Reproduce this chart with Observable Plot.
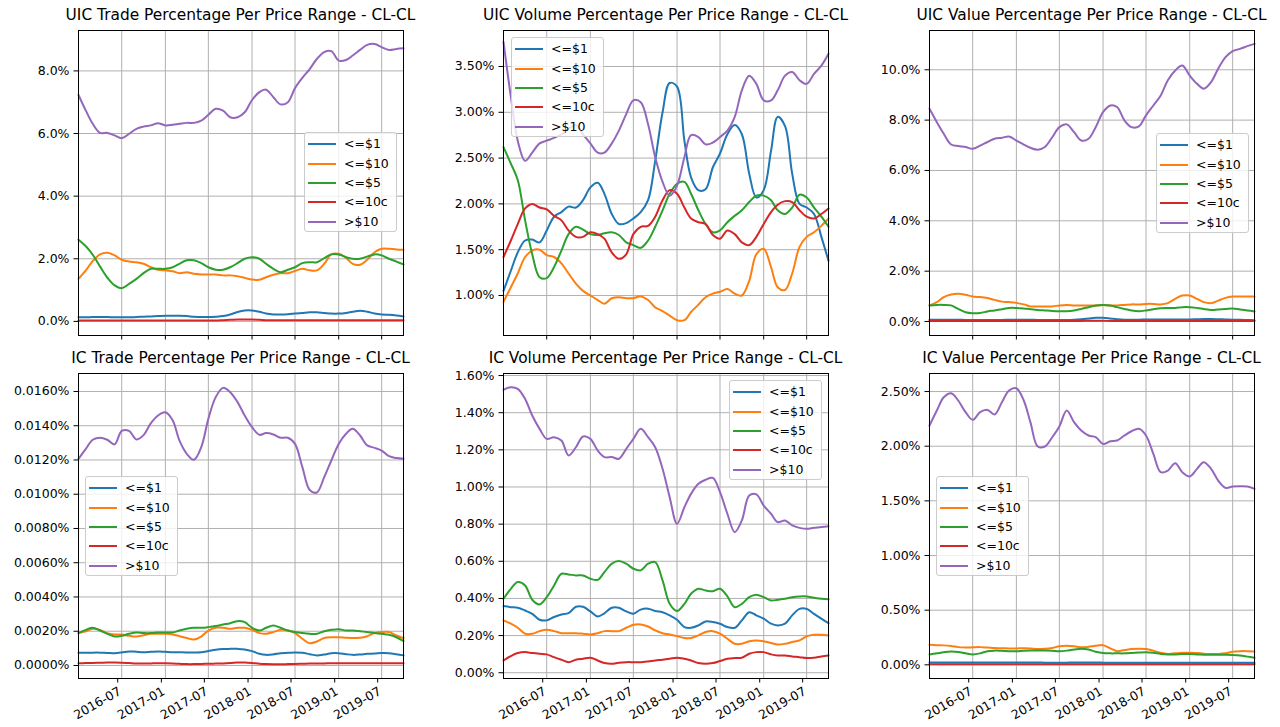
<!DOCTYPE html>
<html>
<head>
<meta charset="utf-8">
<script src="https://cdn.jsdelivr.net/npm/d3@7"></script>
<script src="https://cdn.jsdelivr.net/npm/@observablehq/plot@0.6"></script>
<style>
  body { margin: 0; background: #fff; }
  #root { position: relative; width: 1280px; height: 727px; overflow: hidden; background: #fff; font-family: "DejaVu Sans", sans-serif; }
  .title { position: absolute; font-size: 15.4px; line-height: 15px; text-align: center; color: #000; white-space: nowrap; }
  .panel { position: absolute; }
  .legend { position: absolute; box-sizing: border-box; width: 93px; height: 100px; border: 1px solid #cccccc; border-radius: 3px; background: rgba(255,255,255,0.8); }
  .legend .row { position: absolute; left: 0; width: 100%; height: 19.4px; }
  .legend .swatch { position: absolute; left: 3px; width: 28px; height: 2px; top: 9px; }
  .legend .lab { position: absolute; left: 39px; top: 1px; font-size: 12.5px; line-height: 17px; color: #000; white-space: nowrap; }
</style>
</head>
<body>
<div id="root"></div>
<script>
// ---------- shared categories ----------
const seriesNames = ["<=$1", "<=$10", "<=$5", "<=10c", ">$10"];
const seriesColors = ["#1f77b4", "#ff7f0e", "#2ca02c", "#d62728", "#9467bd"];
const months = [
  "2016-01","2016-02","2016-03","2016-04","2016-05","2016-06","2016-07","2016-08","2016-09","2016-10","2016-11","2016-12",
  "2017-01","2017-02","2017-03","2017-04","2017-05","2017-06","2017-07","2017-08","2017-09","2017-10","2017-11","2017-12",
  "2018-01","2018-02","2018-03","2018-04","2018-05","2018-06","2018-07","2018-08","2018-09","2018-10","2018-11","2018-12",
  "2019-01","2019-02","2019-03","2019-04","2019-05","2019-06","2019-07","2019-08","2019-09","2019-10"
];
const xTickLabels = ["2016-07","2017-01","2017-07","2018-01","2018-07","2019-01","2019-07"];

// ---------- UIC Trade (%) ----------
const uicTradeLe1  = [0.13,0.13,0.14,0.14,0.14,0.13,0.13,0.13,0.14,0.15,0.16,0.17,0.18,0.18,0.18,0.17,0.15,0.14,0.14,0.15,0.17,0.22,0.30,0.35,0.35,0.31,0.25,0.22,0.22,0.23,0.25,0.27,0.29,0.29,0.27,0.25,0.25,0.27,0.31,0.34,0.31,0.25,0.22,0.21,0.19,0.16];
const uicTradeLe10 = [1.36,1.63,1.93,2.14,2.19,2.11,1.97,1.91,1.89,1.84,1.73,1.65,1.63,1.60,1.54,1.57,1.52,1.50,1.50,1.50,1.47,1.47,1.44,1.39,1.34,1.33,1.41,1.49,1.54,1.54,1.61,1.68,1.63,1.63,1.84,2.14,2.16,2.03,1.84,1.81,1.97,2.21,2.32,2.32,2.30,2.29];
const uicTradeLe5  = [2.61,2.40,2.13,1.75,1.40,1.15,1.06,1.20,1.36,1.54,1.68,1.68,1.68,1.73,1.84,1.95,1.95,1.86,1.73,1.65,1.65,1.73,1.86,2.00,2.05,2.00,1.84,1.68,1.57,1.65,1.73,1.86,1.89,1.89,2.02,2.14,2.14,2.05,2.00,2.00,2.07,2.14,2.11,2.00,1.91,1.82];
const uicTradeLe10c= [0.03,0.03,0.03,0.03,0.03,0.03,0.03,0.03,0.03,0.03,0.03,0.03,0.03,0.03,0.03,0.03,0.03,0.03,0.03,0.03,0.04,0.05,0.06,0.06,0.06,0.05,0.04,0.04,0.04,0.04,0.04,0.04,0.04,0.04,0.04,0.04,0.04,0.04,0.04,0.04,0.04,0.04,0.04,0.04,0.04,0.04];
const uicTradeGt10 = [7.23,6.73,6.31,6.02,6.02,5.94,5.85,5.99,6.15,6.22,6.26,6.33,6.26,6.28,6.31,6.34,6.34,6.41,6.60,6.79,6.73,6.52,6.52,6.68,7.07,7.32,7.40,7.16,6.93,7.00,7.45,7.78,8.06,8.38,8.60,8.63,8.33,8.35,8.49,8.67,8.83,8.86,8.76,8.67,8.70,8.72];

// ---------- UIC Volume (%) ----------
const uicVolLe1  = [1.05,1.27,1.47,1.60,1.61,1.58,1.71,1.86,1.91,1.97,1.96,2.04,2.18,2.23,2.11,1.89,1.78,1.79,1.84,1.91,2.04,2.47,3.00,3.32,3.28,2.69,2.29,2.15,2.16,2.40,2.55,2.76,2.86,2.76,2.33,2.07,2.15,2.58,2.95,2.85,2.33,2.00,1.96,1.89,1.64,1.38];
const uicVolLe10 = [0.93,1.09,1.24,1.42,1.49,1.50,1.44,1.42,1.35,1.24,1.13,1.05,1.00,0.95,0.91,0.97,0.98,0.97,0.97,0.99,0.95,0.87,0.83,0.78,0.73,0.73,0.82,0.90,0.98,1.02,1.04,1.07,1.02,1.00,1.16,1.45,1.51,1.31,1.09,1.06,1.24,1.53,1.64,1.69,1.76,1.84];
const uicVolLe5  = [2.62,2.44,2.26,1.82,1.45,1.20,1.19,1.31,1.49,1.67,1.75,1.72,1.67,1.66,1.68,1.69,1.66,1.58,1.55,1.52,1.60,1.75,1.93,2.11,2.22,2.24,2.11,1.93,1.78,1.69,1.71,1.80,1.87,1.93,2.02,2.09,2.09,2.04,1.93,1.89,1.96,2.10,2.07,1.96,1.86,1.75];
const uicVolLe10c= [1.42,1.60,1.78,1.95,2.00,1.96,1.94,1.87,1.82,1.71,1.64,1.64,1.69,1.67,1.62,1.47,1.40,1.45,1.67,1.75,1.76,1.86,2.04,2.15,2.11,1.96,1.84,1.80,1.78,1.66,1.62,1.71,1.67,1.58,1.55,1.64,1.78,1.91,1.99,2.03,2.02,1.93,1.86,1.84,1.89,1.95];
const uicVolGt10 = [3.77,3.17,2.69,2.47,2.56,2.66,2.69,2.72,2.76,2.82,2.86,2.76,2.66,2.56,2.56,2.66,2.80,2.98,3.13,3.11,2.87,2.51,2.24,2.09,2.20,2.51,2.75,2.73,2.65,2.67,2.73,2.80,2.95,3.24,3.40,3.31,3.13,3.13,3.24,3.40,3.44,3.35,3.31,3.42,3.51,3.64];

// ---------- UIC Value (%) ----------
const uicValLe1  = [0.07,0.07,0.07,0.07,0.07,0.06,0.06,0.06,0.06,0.06,0.06,0.07,0.07,0.07,0.07,0.06,0.06,0.06,0.06,0.06,0.07,0.09,0.12,0.15,0.15,0.12,0.09,0.07,0.07,0.07,0.08,0.08,0.08,0.08,0.08,0.08,0.08,0.09,0.10,0.10,0.09,0.08,0.07,0.07,0.06,0.05];
const uicValLe10 = [0.64,0.77,0.97,1.07,1.10,1.06,0.99,0.97,0.93,0.86,0.79,0.77,0.74,0.68,0.60,0.60,0.60,0.60,0.64,0.66,0.64,0.64,0.64,0.64,0.66,0.64,0.64,0.66,0.68,0.68,0.70,0.70,0.68,0.73,0.90,1.03,1.03,0.90,0.77,0.73,0.83,0.94,0.99,0.99,0.99,0.99];
const uicValLe5  = [0.64,0.66,0.66,0.64,0.50,0.37,0.33,0.34,0.40,0.44,0.49,0.54,0.54,0.52,0.49,0.46,0.44,0.42,0.41,0.41,0.44,0.50,0.57,0.64,0.66,0.64,0.57,0.50,0.44,0.41,0.44,0.49,0.53,0.54,0.54,0.57,0.57,0.54,0.50,0.46,0.48,0.50,0.52,0.48,0.44,0.40];
const uicValLe10c= [0.02,0.02,0.02,0.02,0.02,0.02,0.02,0.02,0.02,0.02,0.02,0.02,0.02,0.02,0.02,0.02,0.02,0.02,0.02,0.02,0.02,0.02,0.03,0.03,0.03,0.02,0.02,0.02,0.02,0.02,0.02,0.02,0.02,0.02,0.02,0.02,0.02,0.02,0.02,0.02,0.02,0.02,0.02,0.02,0.02,0.02];
const uicValGt10 = [8.45,7.92,7.46,7.03,6.97,6.93,6.86,6.99,7.13,7.26,7.30,7.35,7.19,7.03,6.90,6.82,6.93,7.32,7.72,7.83,7.52,7.19,7.26,7.72,8.32,8.58,8.52,7.99,7.72,7.75,8.19,8.58,8.98,9.58,9.97,10.17,9.77,9.44,9.25,9.51,10.04,10.50,10.74,10.83,10.94,11.03];

// ---------- IC Trade (%) ----------
const icTradeLe1  = [0.00074,0.00074,0.00075,0.00075,0.00073,0.00072,0.00076,0.00082,0.00080,0.00078,0.00080,0.00082,0.00080,0.00078,0.00077,0.00076,0.00076,0.00077,0.00084,0.00092,0.00096,0.00097,0.00097,0.00094,0.00084,0.00068,0.00062,0.00065,0.00072,0.00074,0.00076,0.00074,0.00066,0.00059,0.00064,0.00072,0.00072,0.00066,0.00062,0.00064,0.00068,0.00070,0.00073,0.00072,0.00066,0.00059];
const icTradeLe10 = [0.00189,0.00200,0.00214,0.00208,0.00189,0.00181,0.00181,0.00173,0.00169,0.00177,0.00185,0.00185,0.00185,0.00181,0.00171,0.00160,0.00152,0.00169,0.00204,0.00220,0.00220,0.00214,0.00220,0.00220,0.00208,0.00189,0.00185,0.00195,0.00208,0.00204,0.00189,0.00156,0.00130,0.00140,0.00160,0.00165,0.00165,0.00162,0.00160,0.00162,0.00171,0.00189,0.00195,0.00195,0.00175,0.00160];
const icTradeLe5  = [0.00189,0.00208,0.00220,0.00204,0.00185,0.00169,0.00173,0.00185,0.00193,0.00189,0.00189,0.00193,0.00193,0.00193,0.00204,0.00214,0.00220,0.00220,0.00224,0.00230,0.00239,0.00247,0.00259,0.00253,0.00220,0.00204,0.00220,0.00234,0.00220,0.00204,0.00195,0.00189,0.00185,0.00185,0.00200,0.00208,0.00212,0.00204,0.00204,0.00200,0.00195,0.00189,0.00185,0.00179,0.00165,0.00142];
const icTradeLe10c= [0.00013,0.00014,0.00015,0.00016,0.00017,0.00017,0.00016,0.00014,0.00012,0.00011,0.00012,0.00013,0.00013,0.00012,0.00010,0.00008,0.00008,0.00009,0.00010,0.00011,0.00012,0.00014,0.00017,0.00018,0.00015,0.00010,0.00008,0.00007,0.00007,0.00008,0.00009,0.00010,0.00011,0.00012,0.00012,0.00013,0.00013,0.00013,0.00013,0.00013,0.00013,0.00013,0.00013,0.00013,0.00013,0.00013];
const icTradeGt10 = [0.01207,0.01265,0.01318,0.01330,0.01318,0.01291,0.01370,0.01370,0.01320,0.01345,0.01415,0.01460,0.01479,0.01431,0.01314,0.01236,0.01201,0.01275,0.01440,0.01567,0.01621,0.01596,0.01538,0.01460,0.01392,0.01347,0.01357,0.01349,0.01330,0.01330,0.01294,0.01158,0.01025,0.01010,0.01100,0.01197,0.01294,0.01353,0.01382,0.01343,0.01285,0.01271,0.01255,0.01222,0.01211,0.01207];

// ---------- IC Volume (%) ----------
const icVolLe1  = [0.359,0.353,0.350,0.335,0.317,0.285,0.282,0.300,0.314,0.321,0.355,0.355,0.330,0.303,0.320,0.350,0.350,0.330,0.318,0.340,0.345,0.332,0.326,0.309,0.285,0.246,0.242,0.255,0.276,0.273,0.264,0.246,0.242,0.282,0.326,0.309,0.291,0.264,0.255,0.264,0.309,0.344,0.344,0.317,0.291,0.267];
const icVolLe10 = [0.282,0.264,0.242,0.210,0.210,0.224,0.231,0.224,0.213,0.213,0.213,0.210,0.206,0.213,0.224,0.224,0.224,0.242,0.258,0.260,0.249,0.228,0.213,0.206,0.197,0.187,0.187,0.201,0.219,0.224,0.210,0.183,0.156,0.156,0.170,0.174,0.170,0.160,0.152,0.156,0.165,0.174,0.196,0.204,0.204,0.201];
const icVolLe5  = [0.398,0.452,0.488,0.470,0.393,0.368,0.407,0.470,0.533,0.529,0.524,0.524,0.506,0.500,0.542,0.587,0.601,0.587,0.560,0.551,0.587,0.596,0.497,0.371,0.332,0.371,0.425,0.452,0.443,0.439,0.452,0.411,0.353,0.371,0.407,0.420,0.407,0.389,0.393,0.398,0.407,0.411,0.411,0.404,0.398,0.395];
const icVolLe10c= [0.066,0.090,0.106,0.111,0.106,0.102,0.099,0.084,0.070,0.057,0.070,0.075,0.081,0.066,0.052,0.048,0.054,0.057,0.057,0.057,0.061,0.066,0.070,0.075,0.081,0.075,0.066,0.052,0.048,0.052,0.063,0.075,0.079,0.081,0.102,0.111,0.111,0.099,0.093,0.093,0.088,0.084,0.079,0.081,0.088,0.093];
const icVolGt10 = [1.523,1.537,1.528,1.474,1.385,1.313,1.259,1.268,1.250,1.170,1.214,1.272,1.259,1.196,1.161,1.161,1.152,1.205,1.259,1.313,1.268,1.214,1.098,0.945,0.802,0.891,0.963,1.017,1.039,1.049,0.972,0.856,0.757,0.820,0.954,0.960,0.900,0.856,0.811,0.820,0.793,0.780,0.775,0.780,0.784,0.789];

// ---------- IC Value (%) ----------
const icValLe1  = [0.022,0.022,0.022,0.022,0.022,0.022,0.021,0.021,0.021,0.021,0.022,0.022,0.022,0.021,0.021,0.021,0.020,0.020,0.020,0.020,0.021,0.021,0.021,0.021,0.020,0.019,0.019,0.019,0.019,0.019,0.019,0.019,0.019,0.019,0.019,0.019,0.019,0.019,0.019,0.019,0.019,0.019,0.019,0.019,0.019,0.019];
const icValLe10 = [0.183,0.180,0.178,0.172,0.162,0.158,0.160,0.162,0.158,0.153,0.152,0.150,0.150,0.152,0.150,0.145,0.147,0.155,0.170,0.175,0.170,0.160,0.165,0.175,0.180,0.150,0.125,0.135,0.145,0.148,0.145,0.130,0.110,0.100,0.105,0.110,0.110,0.108,0.102,0.100,0.100,0.105,0.120,0.125,0.125,0.122];
const icValLe5  = [0.095,0.105,0.115,0.122,0.118,0.105,0.095,0.105,0.125,0.130,0.128,0.125,0.125,0.128,0.130,0.130,0.130,0.128,0.125,0.130,0.140,0.148,0.140,0.120,0.108,0.105,0.105,0.105,0.108,0.112,0.115,0.110,0.100,0.095,0.095,0.098,0.098,0.095,0.093,0.092,0.093,0.092,0.090,0.085,0.075,0.065];
const icValLe10c= [0.005,0.005,0.005,0.005,0.005,0.005,0.005,0.005,0.005,0.005,0.005,0.005,0.005,0.005,0.005,0.005,0.005,0.005,0.005,0.005,0.005,0.005,0.006,0.006,0.005,0.005,0.005,0.005,0.005,0.005,0.005,0.005,0.005,0.005,0.005,0.005,0.005,0.005,0.005,0.005,0.005,0.005,0.005,0.005,0.005,0.005];
const icValGt10 = [2.189,2.326,2.448,2.485,2.418,2.311,2.241,2.311,2.332,2.290,2.402,2.509,2.530,2.418,2.220,1.997,1.997,2.082,2.180,2.326,2.220,2.143,2.098,2.082,2.021,2.046,2.052,2.098,2.137,2.159,2.098,1.930,1.762,1.777,1.845,1.762,1.723,1.793,1.854,1.793,1.686,1.619,1.631,1.634,1.631,1.610];

// ---------- y ticks per panel ----------
const uicTradeTicks = [0, 2, 4, 6, 8];
const uicVolTicks = [1.0, 1.5, 2.0, 2.5, 3.0, 3.5];
const uicValTicks = [0, 2, 4, 6, 8, 10];
const icTradeTicks = [0, 0.002, 0.004, 0.006, 0.008, 0.010, 0.012, 0.014, 0.016];
const icVolTicks = [0, 0.2, 0.4, 0.6, 0.8, 1.0, 1.2, 1.4, 1.6];
const icValTicks = [0, 0.5, 1.0, 1.5, 2.0, 2.5];

// ---------- build ----------
const parseMonth = d3.utcParse("%Y-%m");
const fmtMonth = d3.utcFormat("%Y-%m");
const monthDates = months.map(parseMonth);
const xTicks = xTickLabels.map(parseMonth);
const xDomain = [monthDates[0], monthDates[monthDates.length - 1]];

const W = 325, H = 305;
const panels = [
  {title: "UIC Trade Percentage Per Price Range - CL-CL", L: 78, T: 30, series: [uicTradeLe1, uicTradeLe10, uicTradeLe5, uicTradeLe10c, uicTradeGt10],
   yDomain: [-0.45, 9.29], yTicks: uicTradeTicks, digits: 1, bottom: false, leg: [226, 102]},
  {title: "UIC Volume Percentage Per Price Range - CL-CL", L: 503, T: 30, series: [uicVolLe1, uicVolLe10, uicVolLe5, uicVolLe10c, uicVolGt10],
   yDomain: [0.563, 3.893], yTicks: uicVolTicks, digits: 2, bottom: false, leg: [8, 7]},
  {title: "UIC Value Percentage Per Price Range - CL-CL", L: 929, T: 30, series: [uicValLe1, uicValLe10, uicValLe5, uicValLe10c, uicValGt10],
   yDomain: [-0.556, 11.56], yTicks: uicValTicks, digits: 1, bottom: false, leg: [227, 103]},
  {title: "IC Trade Percentage Per Price Range - CL-CL", L: 78, T: 373, series: [icTradeLe1, icTradeLe10, icTradeLe5, icTradeLe10c, icTradeGt10],
   yDomain: [-0.00076, 0.01705], yTicks: icTradeTicks, digits: 4, bottom: true, leg: [7, 103]},
  {title: "IC Volume Percentage Per Price Range - CL-CL", L: 503, T: 373, series: [icVolLe1, icVolLe10, icVolLe5, icVolLe10c, icVolGt10],
   yDomain: [-0.031, 1.611], yTicks: icVolTicks, digits: 2, bottom: true, leg: [226, 7]},
  {title: "IC Value Percentage Per Price Range - CL-CL", L: 929, T: 373, series: [icValLe1, icValLe10, icValLe5, icValLe10c, icValGt10],
   yDomain: [-0.125, 2.665], yTicks: icValTicks, digits: 2, bottom: true, leg: [7, 103]}
];

const root = document.getElementById("root");
const ml = 80, mr = 10, mt = 10, mb = 60;

for (const p of panels) {
  const rows = [];
  p.series.forEach((arr, s) => arr.forEach((v, i) => rows.push({date: monthDates[i], value: v, series: seriesNames[s]})));
  const chart = Plot.plot({
    width: W + ml + mr, height: H + mt + mb,
    marginLeft: ml, marginRight: mr, marginTop: mt, marginBottom: mb,
    style: {background: "transparent", fontFamily: "'DejaVu Sans', sans-serif", fontSize: "12.5px", color: "#000", overflow: "visible"},
    x: {type: "utc", domain: xDomain},
    y: {domain: p.yDomain},
    color: {domain: seriesNames, range: seriesColors},
    marks: [
      Plot.gridX(xTicks, {stroke: "#b0b0b0", strokeOpacity: 1, strokeWidth: 1}),
      Plot.gridY(p.yTicks, {stroke: "#b0b0b0", strokeOpacity: 1, strokeWidth: 1}),
      Plot.line(rows, {x: "date", y: "value", z: "series", stroke: "series", strokeWidth: 2, curve: "catmull-rom"}),
      Plot.frame({stroke: "#000", strokeWidth: 1}),
      Plot.axisY(p.yTicks, {tickSize: 4.5, tickPadding: 4.5, tickFormat: d => d.toFixed(p.digits) + "%", label: null}),
      p.bottom
        ? Plot.axisX(xTicks, {tickSize: 4.5, tickPadding: 3, tickRotate: -30, textAnchor: "end", lineAnchor: "top", dx: -4, tickFormat: fmtMonth, label: null})
        : Plot.axisX(xTicks, {tickSize: 4.5, tickFormat: () => "", label: null})
    ]
  });
  const holder = document.createElement("div");
  holder.className = "panel";
  holder.style.left = (p.L - ml) + "px";
  holder.style.top = (p.T - mt) + "px";
  holder.style.width = (W + ml + mr) + "px";
  holder.appendChild(chart);
  root.appendChild(holder);

  const t = document.createElement("div");
  t.className = "title";
  t.textContent = p.title;
  t.style.left = (p.L - 40) + "px";
  t.style.width = (W + 80) + "px";
  t.style.top = (p.T - 22) + "px";
  root.appendChild(t);

  const lg = document.createElement("div");
  lg.className = "legend";
  lg.style.left = (p.L + p.leg[0]) + "px";
  lg.style.top = (p.T + p.leg[1]) + "px";
  seriesNames.forEach((name, i) => {
    const r = document.createElement("div");
    r.className = "row";
    r.style.top = (1.3 + i * 19.3) + "px";
    const sw = document.createElement("div");
    sw.className = "swatch";
    sw.style.background = seriesColors[i];
    const lb = document.createElement("div");
    lb.className = "lab";
    lb.textContent = name;
    r.appendChild(sw); r.appendChild(lb);
    lg.appendChild(r);
  });
  root.appendChild(lg);
}
</script>
</body>
</html>
